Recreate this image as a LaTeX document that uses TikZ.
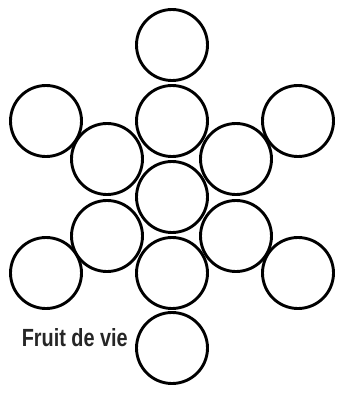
\documentclass[tikz,border=0pt]{standalone}
\usepackage{fontspec}
\setmainfont{Liberation Sans}
\begin{document}
\begin{tikzpicture}[x=1pt,y=-1pt,
  ring/.style={circle,draw=black,line width=2.9pt,minimum size=71pt,inner sep=0pt},
  lbl/.style={inner sep=0pt,text=black!85}]
\useasboundingbox (0,0) rectangle (337,394);
\node[ring] (top) at (172,45) {};
\node[ring] (up) at (172,121) {};
\node[ring] (mid) at (172,197) {};
\node[ring] (dn) at (172,273) {};
\node[ring] (bot) at (172,348) {};
\node[ring] (iul) at (107,159) {};
\node[ring] (iur) at (236,159) {};
\node[ring] (ill) at (107,236) {};
\node[ring] (ilr) at (236,236) {};
\node[ring] (oul) at (46,121) {};
\node[ring] (our) at (298,121) {};
\node[ring] (oll) at (46,273) {};
\node[ring] (olr) at (298,273) {};
\node[lbl,anchor=base east] (t) at (128,346) {\resizebox{106pt}{18pt}{\textbf{Fruit de vie}}};
\end{tikzpicture}
\end{document}
